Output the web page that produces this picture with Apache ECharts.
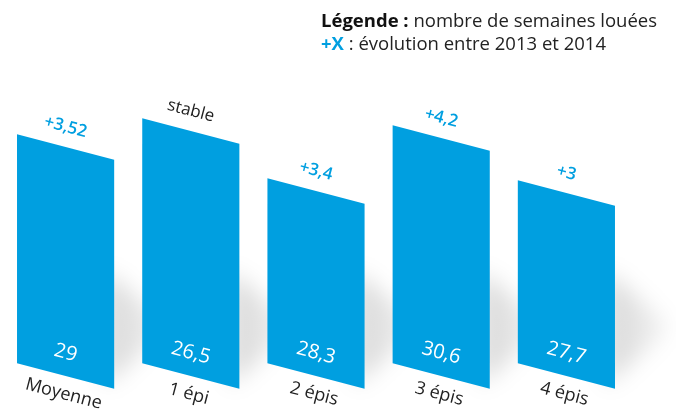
<!DOCTYPE html>
<html>
<head>
<meta charset="utf-8">
<script src="https://cdn.jsdelivr.net/npm/echarts@6/dist/echarts.min.js"></script>
<style>
  html, body { margin: 0; padding: 0; background: #fff; }
  #main { width: 676px; height: 416px; }
</style>
</head>
<body>
<div id="main"></div>
<script>
// categories + values (nombre de semaines louées)
var categories = ['Moyenne', '1 épi', '2 épis', '3 épis', '4 épis'];
var weeks = [29, 26.5, 28.3, 30.6, 27.7];
// évolution entre 2013 et 2014 (0 = stable)
var evolution = [3.52, 0, 3.4, 4.2, 3];
// drawn bar heights as they appear in the picture (not proportional to values)
var barHeights = [229, 245, 185, 238, 183];

var BLUE = '#009fe0';
var SLOPE = 0.263;               // top/bottom edges lean down to the right
var ANGLE = Math.atan(SLOPE);
var FONT = '"Open Sans", sans-serif';
var OFF = 2000;                  // shadow shape is drawn off-canvas, only its blur shows

function fmt(v) {
  return String(v).replace('.', ',');
}

var chart = echarts.init(document.getElementById('main'), null, { renderer: 'canvas' });

var option = {
  backgroundColor: '#ffffff',
  animation: false,
  title: {
    left: 316,
    top: 5,
    text: '{b|Légende :} nombre de semaines louées\n{x|+X} : évolution entre 2013 et 2014',
    textStyle: {
      fontFamily: FONT,
      fontSize: 18.5,
      fontWeight: 'normal',
      color: '#222',
      lineHeight: 23,
      rich: {
        b: { fontFamily: FONT, fontSize: 18.5, fontWeight: 'bold', color: '#111', lineHeight: 23 },
        x: { fontFamily: FONT, fontSize: 18.5, fontWeight: 'bold', color: BLUE, lineHeight: 23 }
      }
    }
  },
  grid: { left: 3, right: 47, top: 76, bottom: 40 },
  xAxis: {
    type: 'category',
    data: categories,
    show: false
  },
  yAxis: {
    type: 'value',
    min: 0,
    max: 300,
    show: false
  },
  series: [{
    type: 'custom',
    data: categories.map(function (c, i) { return [i, barHeights[i]]; }),
    renderItem: function (params, api) {
      var i = api.value(0);
      var base = api.coord([i, 0]);
      var top = api.coord([i, api.value(1)]);
      var w = api.size([1, 0])[0] * 0.776;
      var s = w * SLOPE;
      var cx = base[0], yb = base[1], yt = top[1];
      var ev = evolution[i];
      var ex = cx + w / 2, ey = yb + s / 2;
      return {
        type: 'group',
        children: [{
          // soft shadow cast to the right of the bar
          type: 'polygon',
          shape: {
            points: [
              [ex - 8 - OFF, ey - 118],
              [ex + 62 - OFF, ey - 62],
              [ex - 8 - OFF, ey - 4]
            ]
          },
          style: {
            fill: {
              type: 'linear', x: 0, y: 0, x2: 1, y2: 0,
              colorStops: [
                { offset: 0, color: 'rgba(0,0,0,1)' },
                { offset: 1, color: 'rgba(0,0,0,0.15)' }
              ]
            },
            shadowColor: 'rgba(0,0,0,0.16)',
            shadowBlur: 22,
            shadowOffsetX: OFF
          }
        }, {
          type: 'polygon',
          shape: {
            points: [
              [cx - w / 2, yb - s / 2],
              [cx + w / 2, yb + s / 2],
              [cx + w / 2, yt + s / 2],
              [cx - w / 2, yt - s / 2]
            ]
          },
          style: { fill: BLUE }
        }, {
          type: 'text',
          x: cx, y: yt - 20,
          rotation: -ANGLE,
          style: {
            text: ev === 0 ? 'stable' : '+' + fmt(ev),
            fill: ev === 0 ? '#222' : BLUE,
            font: (ev === 0 ? 'normal ' : '600 ') + '17px ' + FONT,
            align: 'center',
            verticalAlign: 'middle'
          }
        }, {
          type: 'text',
          x: cx, y: yb - 23,
          rotation: -ANGLE,
          style: {
            text: fmt(weeks[i]),
            fill: '#fff',
            font: '500 20px ' + FONT,
            align: 'center',
            verticalAlign: 'middle'
          }
        }, {
          type: 'text',
          x: cx - 2, y: yb + 18,
          rotation: -ANGLE,
          style: {
            text: categories[i],
            fill: '#222',
            font: 'normal 18px ' + FONT,
            align: 'center',
            verticalAlign: 'middle'
          }
        }]
      };
    }
  }]
};

chart.setOption(option);
</script>
</body>
</html>
